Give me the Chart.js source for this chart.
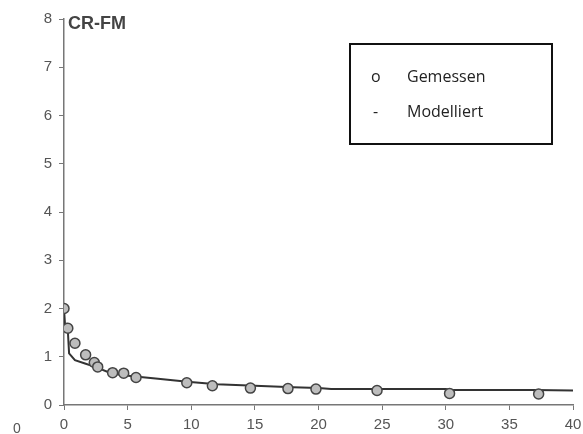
<!DOCTYPE html>
<html>
<head>
<meta charset="utf-8">
<script src="https://cdn.jsdelivr.net/npm/chart.js@4.4.1/dist/chart.umd.min.js"></script>
<style>
  html, body { margin: 0; padding: 0; background: #fff; }
  #wrap { position: relative; width: 583px; height: 434px; }
  #title { position: absolute; left: 68px; top: 13px; font: bold 18px "Liberation Sans", Arial, sans-serif; color: #444; }
  #stray { position: absolute; left: 13px; top: 420px; font: 14px "Liberation Sans", Arial, sans-serif; color: #555; }
  #legend { position: absolute; left: 349px; top: 43px; width: 200px; height: 98px; border: 2px solid #111;
            font: 16px "Open Sans", "Noto Sans", sans-serif; color: #222; }
  #legend div { position: absolute; white-space: nowrap; }
</style>
</head>
<body>
<div id="wrap">
  <canvas id="chart" width="583" height="434"></canvas>
  <div id="title">CR-FM</div>
  <div id="stray">0</div>
  <div id="legend">
    <div style="left:20px; top:20px;">o</div>
    <div style="left:56px; top:20px;">Gemessen</div>
    <div style="left:22px; top:55px;">-</div>
    <div style="left:56px; top:55px;">Modelliert</div>
  </div>
</div>
<script>
const measuredX = [0, 0.3, 0.86, 1.7, 2.38, 2.65, 3.82, 4.69, 5.66, 9.65, 11.66, 14.65, 17.6, 19.8, 24.6, 30.3, 37.3];
const measuredY = [2.0, 1.59, 1.28, 1.04, 0.88, 0.79, 0.67, 0.66, 0.57, 0.46, 0.40, 0.35, 0.34, 0.33, 0.30, 0.24, 0.23];

// modelled curve
const modelX = [0, 0.08, 0.3, 0.4, 0.86, 1.65, 2.44, 3.5, 4.5, 5.6, 7.2, 9.7, 12, 15, 18, 20, 21, 25, 30, 30.5, 37, 40];
const modelY = [2.0, 1.66, 1.55, 1.07, 0.93, 0.86, 0.79, 0.68, 0.62, 0.59, 0.55, 0.48, 0.43, 0.40, 0.37, 0.35, 0.33, 0.33, 0.33, 0.31, 0.31, 0.30];

const xTicks = [0, 5, 10, 15, 20, 25, 30, 35, 40];
const yTicks = [0, 1, 2, 3, 4, 5, 6, 7, 8];

const toPts = (xs, ys) => xs.map((x, i) => ({ x: x, y: ys[i] }));

const tickFont = { family: '"Liberation Sans", Arial, sans-serif', size: 15 };

new Chart(document.getElementById('chart').getContext('2d'), {
    type: 'scatter',
    data: {
        datasets: [{
            label: 'Modelliert',
            data: toPts(modelX, modelY),
            showLine: true,
            borderColor: '#333',
            borderWidth: 2,
            pointRadius: 0,
            fill: false,
            order: 2
        }, {
            label: 'Gemessen',
            data: toPts(measuredX, measuredY),
            backgroundColor: '#bdbdbd',
            borderColor: '#444',
            borderWidth: 1.5,
            pointRadius: 5,
            order: 1
        }]
    },
    options: {
        responsive: false,
        animation: false,
        layout: { padding: { top: 19, right: 10, left: 0, bottom: 0 } },
        plugins: { legend: { display: false }, tooltip: { enabled: false } },
        scales: {
            x: {
                type: 'linear',
                min: 0, max: 40,
                afterBuildTicks: axis => { axis.ticks = xTicks.map(v => ({ value: v })); },
                afterFit: axis => { axis.height = 29; axis.paddingLeft = 0; axis.paddingRight = 0; },
                grid: { drawOnChartArea: false, tickLength: 5, color: '#777' },
                border: { color: '#777', width: 1.5 },
                ticks: { color: '#555', font: tickFont, padding: 6 }
            },
            y: {
                min: 0, max: 8,
                afterBuildTicks: axis => { axis.ticks = yTicks.map(v => ({ value: v })); },
                afterFit: axis => { axis.width = 64; axis.paddingTop = 0; axis.paddingBottom = 0; },
                grid: { drawOnChartArea: false, tickLength: 5, color: '#777' },
                border: { color: '#777', width: 1.5 },
                ticks: { color: '#555', font: tickFont, padding: 7 }
            }
        }
    }
});
</script>
</body>
</html>
